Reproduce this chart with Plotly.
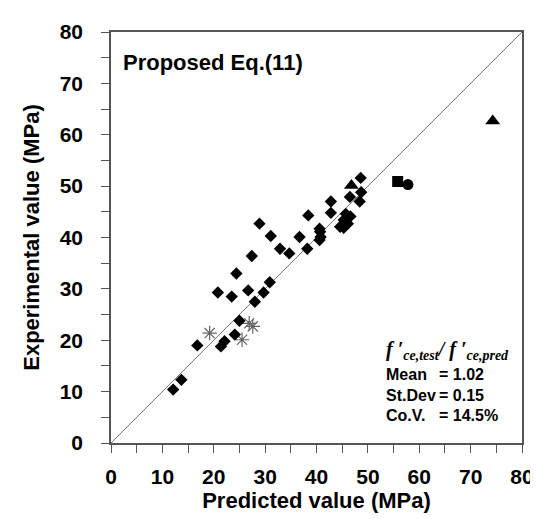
import plotly.graph_objects as go

# Diamonds (main data set)
dia_x = [48.6, 48.7, 46.5, 48.4, 42.8, 42.8, 38.4, 45.7, 46.6, 45.3, 46.1, 44.6, 45.3,
         40.6, 40.7, 40.8, 40.6, 28.9, 31.1, 36.7, 32.9, 34.7, 38.2, 27.4, 24.4, 30.9,
         20.8, 23.5, 26.7, 29.7, 28.0, 25.0, 24.1, 22.1, 21.4, 16.8, 13.7, 12.1]
dia_y = [51.6, 48.8, 47.9, 47.0, 47.0, 44.8, 44.3, 44.6, 44.1, 43.4, 42.7, 42.1, 41.9,
         41.7, 41.1, 40.1, 39.5, 42.7, 40.3, 40.1, 37.8, 36.9, 37.8, 36.4, 33.0, 31.3,
         29.3, 28.5, 29.7, 29.3, 27.5, 23.8, 21.1, 19.8, 18.8, 19.0, 12.3, 10.4]

ast_x = [19.2, 26.9, 27.6, 25.5]
ast_y = [21.4, 23.3, 22.7, 20.1]

sq_x = [55.8]
sq_y = [50.9]
circ_x = [57.8]
circ_y = [50.3]
tri_x = [46.8, 74.3]
tri_y = [50.1, 62.7]

line_x = [0, 80]
line_y = [0, 80]

x_ticks = [0, 10, 20, 30, 40, 50, 60, 70, 80]
y_ticks = [0, 10, 20, 30, 40, 50, 60, 70, 80]

fig = go.Figure()
fig.add_trace(go.Scatter(x=line_x, y=line_y, mode="lines",
                         line=dict(color="#7a7a7a", width=1), hoverinfo="skip"))
fig.add_trace(go.Scatter(x=ast_x, y=ast_y, mode="markers",
                         marker=dict(symbol="asterisk-open", size=12, color="#666666",
                                     line=dict(color="#666666", width=1.2))))
fig.add_trace(go.Scatter(x=dia_x, y=dia_y, mode="markers",
                         marker=dict(symbol="diamond", size=9.5, color="black",
                                     line=dict(width=0))))
fig.add_trace(go.Scatter(x=sq_x, y=sq_y, mode="markers",
                         marker=dict(symbol="square", size=11, color="black", line=dict(width=0))))
fig.add_trace(go.Scatter(x=circ_x, y=circ_y, mode="markers",
                         marker=dict(symbol="circle", size=11, color="black", line=dict(width=0))))
fig.add_trace(go.Scatter(x=tri_x, y=tri_y, mode="markers",
                         marker=dict(symbol="triangle-up", size=13, color="black", line=dict(width=0))))

axis_common = dict(
    range=[0, 80],
    showgrid=False,
    zeroline=False,
    showline=True,
    linecolor="#555555",
    linewidth=1.5,
    mirror=True,
    ticks="outside",
    ticklen=8,
    tickwidth=1.2,
    tickcolor="#555555",
    minor=dict(dtick=5, ticks="outside", ticklen=8, tickwidth=1.2, tickcolor="#555555"),
    tickfont=dict(family="Liberation Sans", size=21, color="black", weight="bold"),
)

fig.update_layout(
    width=538, height=519,
    margin=dict(l=103, r=22, t=24, b=84),
    paper_bgcolor="white", plot_bgcolor="white",
    showlegend=False,
    xaxis=dict(**axis_common, tickvals=x_ticks, ticklabelstandoff=6,
               title=dict(text="<b>Predicted value (MPa)</b>", standoff=6,
                          font=dict(family="Liberation Sans", size=22, color="black"))),
    yaxis=dict(**axis_common, tickvals=y_ticks, ticklabelstandoff=14,
               title=dict(text="<b>Experimental value (MPa)</b>", standoff=14,
                          font=dict(family="Liberation Sans", size=22, color="black"))),
)

fig.add_annotation(x=1.9, y=74, xref="x", yref="y", xanchor="left", yanchor="middle",
                   text="<b>Proposed Eq.(11)</b>", showarrow=False,
                   font=dict(family="Liberation Sans", size=22, color="black"))

fig.add_annotation(x=53.2, y=18.0, xref="x", yref="y", xanchor="left", yanchor="middle",
                   text="<b><i>f ′</i></b><sub><b><i>ce,test</i></b></sub><b><i>/ f ′</i></b><sub><b><i>ce,pred</i></b></sub>",
                   showarrow=False,
                   font=dict(family="Liberation Serif", size=20, color="black"))

stat_labels = ["Mean", "St.Dev", "Co.V."]
stat_values = ["= 1.02", "= 0.15", "= 14.5%"]
stat_y = [13.3, 9.2, 5.3]
for lab, val, yy in zip(stat_labels, stat_values, stat_y):
    fig.add_annotation(x=53.2, y=yy, xref="x", yref="y", xanchor="left", yanchor="middle",
                       text="<b>" + lab + "</b>", showarrow=False,
                       font=dict(family="Liberation Sans", size=16, color="black"))
    fig.add_annotation(x=63.4, y=yy, xref="x", yref="y", xanchor="left", yanchor="middle",
                       text="<b>" + val + "</b>", showarrow=False,
                       font=dict(family="Liberation Sans", size=16, color="black"))

fig.write_html("out.html")
